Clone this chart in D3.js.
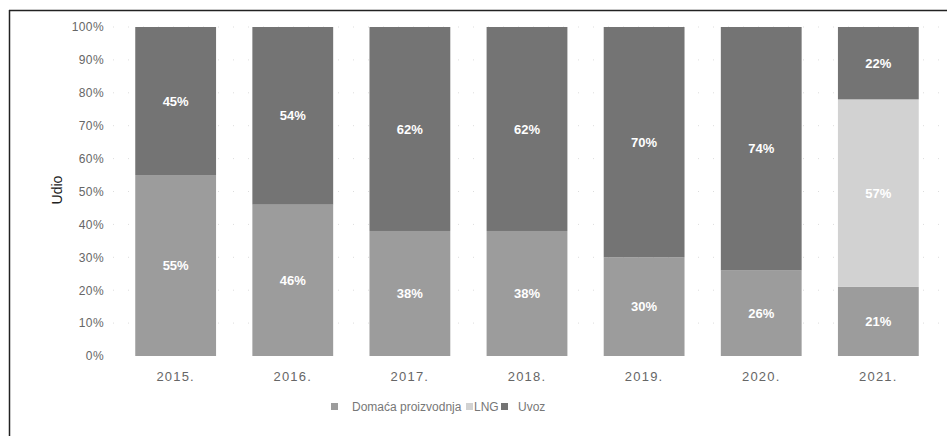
<!DOCTYPE html>
<html>
<head>
<meta charset="utf-8">
<script src="https://cdn.jsdelivr.net/npm/d3@7"></script>
<style>
  body { margin: 0; background: #fff; }
  svg { font-family: "Liberation Sans", Arial, sans-serif; }
  .axis { color: #666; }
  .axis text { fill: #666; }
  .axis path, .axis line { display: none; }
</style>
</head>
<body>
<svg id="chart"></svg>
<script>
// data
const years = ['2015.', '2016.', '2017.', '2018.', '2019.', '2020.', '2021.'];
const domaca = [55, 46, 38, 38, 30, 26, 21];
const lng = [0, 0, 0, 0, 0, 0, 57];
const uvoz = [45, 54, 62, 62, 70, 74, 22];
const seriesNames = ['Domaća proizvodnja', 'LNG', 'Uvoz'];
const yTicks = [0, 10, 20, 30, 40, 50, 60, 70, 80, 90, 100];

const config = {
    width: 947,
    height: 436,
    colors: {'Domaća proizvodnja': '#9c9c9c', 'LNG': '#d2d2d2', 'Uvoz': '#747474'}
};

const rows = years.map((y, i) => ({
    year: y,
    'Domaća proizvodnja': domaca[i],
    'LNG': lng[i],
    'Uvoz': uvoz[i]
}));

const svg = d3.select('#chart')
    .attr('width', config.width)
    .attr('height', config.height);

// frame (only top and left edges are in the picture)
svg.append('line').attr('x1', 9).attr('x2', 947).attr('y1', 10.5).attr('y2', 10.5)
    .attr('stroke', '#222').attr('stroke-width', 1.5);
svg.append('line').attr('x1', 9.5).attr('x2', 9.5).attr('y1', 10).attr('y2', 436)
    .attr('stroke', '#222').attr('stroke-width', 1.5);

const xScale = d3.scaleBand()
    .domain(years)
    .range([113, 941])
    .paddingInner(0.31)
    .paddingOuter(0.19);

const yScale = d3.scaleLinear()
    .domain([0, 100])
    .range([356, 27]);

// faint gridlines
svg.append('g')
    .selectAll('line')
    .data(yTicks.filter(d => d > 0))
    .join('line')
    .attr('x1', 113).attr('x2', 941)
    .attr('y1', d => yScale(d)).attr('y2', d => yScale(d))
    .attr('stroke', '#ddd')
    .attr('stroke-width', 1)
    .attr('stroke-dasharray', '1,14');

const stack = d3.stack().keys(seriesNames);
const stacked = stack(rows);

const layer = svg.append('g')
    .selectAll('g')
    .data(stacked)
    .join('g')
    .attr('fill', d => config.colors[d.key]);

layer.selectAll('rect')
    .data(d => d.filter(s => s[1] - s[0] > 0))
    .join('rect')
    .attr('x', d => xScale(d.data.year))
    .attr('y', d => yScale(d[1]))
    .attr('width', xScale.bandwidth())
    .attr('height', d => yScale(d[0]) - yScale(d[1]));

// value labels
layer.selectAll('text')
    .data(d => d.filter(s => s[1] - s[0] > 0))
    .join('text')
    .attr('x', d => xScale(d.data.year) + xScale.bandwidth() / 2)
    .attr('y', d => yScale((d[0] + d[1]) / 2))
    .attr('dy', '0.35em')
    .attr('text-anchor', 'middle')
    .attr('fill', '#fff')
    .attr('font-size', 13)
    .attr('font-weight', 'bold')
    .text(d => (d[1] - d[0]) + '%');

const yAxis = d3.axisLeft(yScale)
    .tickValues(yTicks)
    .tickSize(0)
    .tickPadding(0)
    .tickFormat(d => d + '%');

svg.append('g')
    .attr('class', 'axis')
    .attr('transform', 'translate(104,0)')
    .call(yAxis)
    .selectAll('text')
    .style('font-size', '12px')
    .style('letter-spacing', '0.4px');

const xAxis = d3.axisBottom(xScale)
    .tickSize(0)
    .tickPadding(12);

svg.append('g')
    .attr('class', 'axis')
    .attr('transform', 'translate(0,360)')
    .call(xAxis)
    .selectAll('text')
    .style('font-size', '13px')
    .style('letter-spacing', '1.2px');

svg.append('text')
    .attr('transform', 'translate(57,190) rotate(-90)')
    .attr('text-anchor', 'middle')
    .attr('dy', '0.35em')
    .attr('font-size', 14)
    .attr('fill', '#222')
    .text('Udio');

// legend
const legendItems = [
    {name: 'Domaća proizvodnja', x: 331, tx: 352},
    {name: 'LNG', x: 466, tx: 474},
    {name: 'Uvoz', x: 501, tx: 518}
];
const legend = svg.append('g').attr('transform', 'translate(0,407)');
const li = legend.selectAll('g')
    .data(legendItems)
    .join('g');
li.append('rect')
    .attr('x', d => d.x)
    .attr('y', -4)
    .attr('width', 7)
    .attr('height', 7)
    .attr('fill', d => config.colors[d.name]);
li.append('text')
    .attr('x', d => d.tx)
    .attr('dy', '0.35em')
    .attr('font-size', 12)
    .attr('fill', '#777')
    .text(d => d.name);
</script>
</body>
</html>
